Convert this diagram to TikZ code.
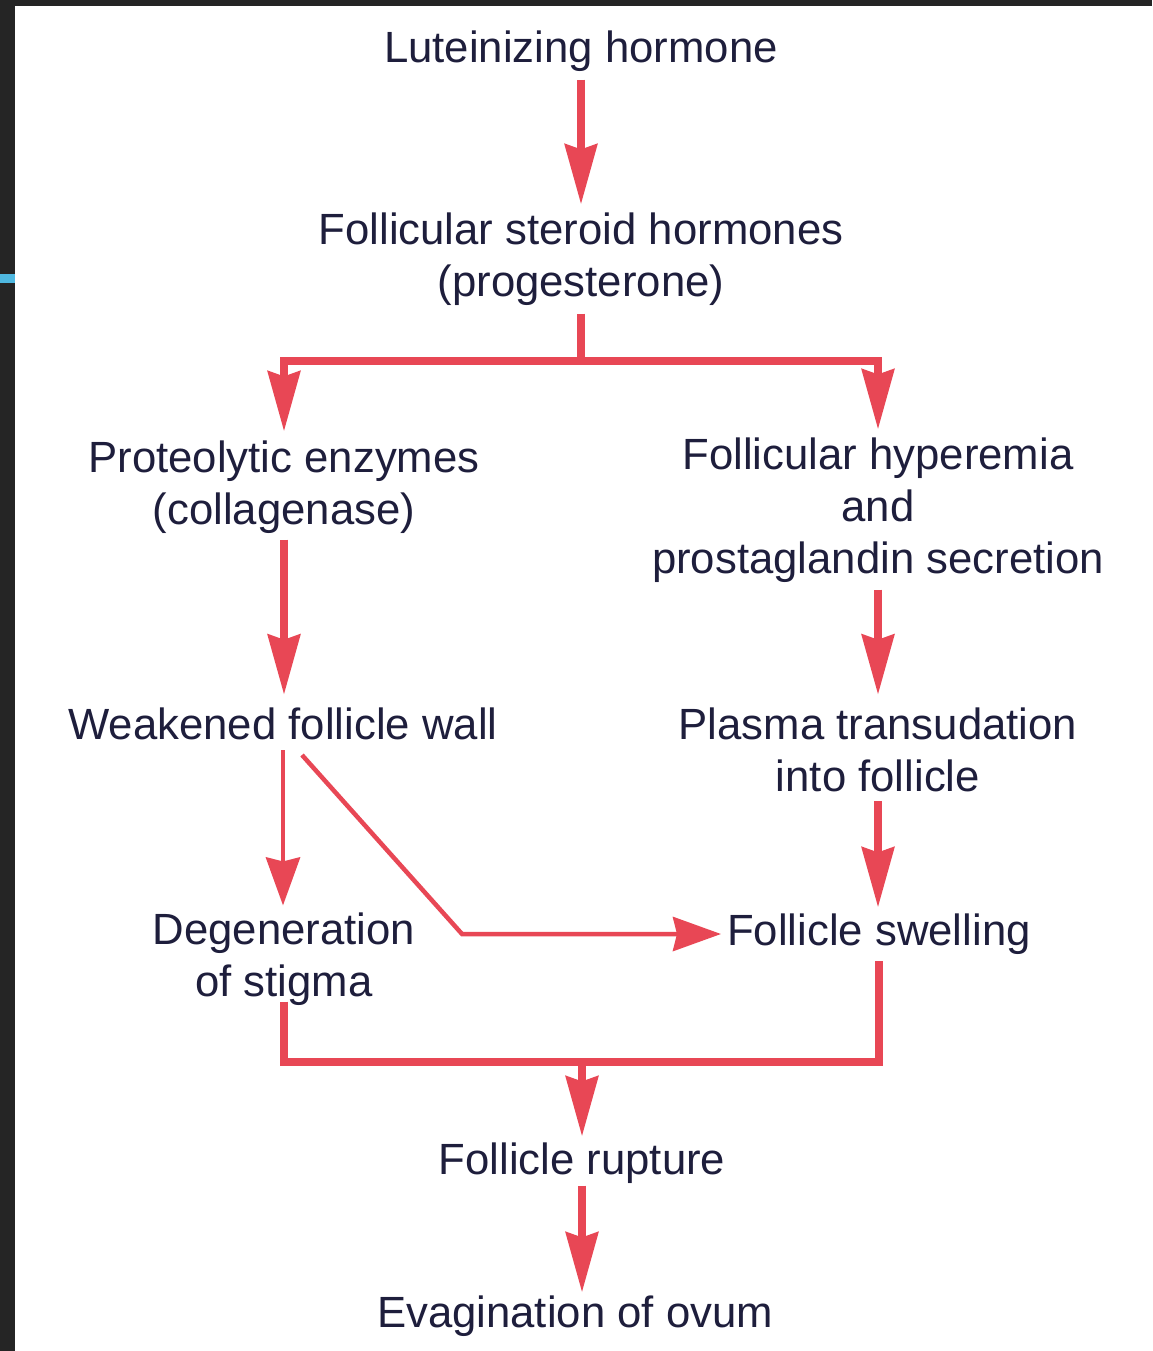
\documentclass[tikz,border=0pt]{standalone}
\usepackage{fontspec}
\setmainfont{Liberation Sans}
\usetikzlibrary{arrows.meta}
\definecolor{arr}{HTML}{E84755}
\definecolor{txt}{HTML}{1E1E3C}
\definecolor{framecol}{HTML}{252525}
\definecolor{tabcol}{HTML}{4FB8E0}
\begin{document}
\begin{tikzpicture}[x=1pt,y=-1pt,
  lbl/.style={text=txt, font=\fontsize{43.7}{52}\selectfont, align=center, inner sep=0pt},
  flow/.style={draw=arr, line width=8pt, -{Stealth[length=60pt,width=32pt,inset=5pt]}},
  link/.style={draw=arr, line width=8pt, line join=miter},
  slim/.style={draw=arr, line width=4.5pt, line join=miter, -{Stealth[length=48pt,width=34pt,inset=4pt]}}]
\fill[framecol] (0,0) rectangle (1152,1351);
\fill[white] (15,6) rectangle (1152,1351);
\fill[tabcol] (0,274) rectangle (15,283);
\useasboundingbox (0,0) rectangle (1152,1351);

\node[lbl] (lh)  at (581,51)   {Luteinizing hormone};
\node[lbl] (fsh) at (581,259)  {Follicular steroid hormones\\(progesterone)};
\node[lbl] (pe)  at (284,487)  {Proteolytic enzymes\\(collagenase)};
\node[lbl] (fhp) at (878,510)  {Follicular hyperemia\\and\\prostaglandin secretion};
\node[lbl] (wfw) at (283,724)  {Weakened follicle wall};
\node[lbl] (ptf) at (878,750)  {Plasma transudation\\into follicle};
\node[lbl] (dos) at (284,959)  {Degeneration\\of stigma};
\node[lbl] (fs)  at (879,934)  {Follicle swelling};
\node[lbl] (fr)  at (582,1163) {Follicle rupture};
\node[lbl] (eo)  at (575,1316) {Evagination of ovum};

\coordinate (j1) at (581,361);
\coordinate (j2) at (582,1062);
\coordinate (d0) at (302,755);
\coordinate (d1) at (462,0);

\draw[flow, shorten <=8pt, shorten >=8pt] (lh.south) -- (fsh.north);
\draw[link, shorten <=8pt] (fsh.south) -- (j1);
\draw[flow, shorten >=9pt] (j1) -| (pe.north);
\draw[flow, shorten >=8pt] (j1) -| (fhp.north);
\draw[flow, shorten <=6pt, shorten >=13pt] (pe.south) -- (pe.south |- wfw.north);
\draw[flow, shorten <=7pt, shorten >=13pt] (fhp.south) -- (fhp.south |- ptf.north);
\draw[slim, shorten <=10pt, shorten >=7pt] (wfw.south) -- (wfw.south |- dos.north);
\draw[slim, shorten >=6pt] (d0) -- (d1 |- fs.west) -- (fs.west);
\draw[flow, shorten <=9pt, shorten >=6pt] (ptf.south) -- (ptf.south |- fs.north);
\draw[link, shorten <=-4pt, shorten >=6pt] (dos.south) |- (j2) -| (fs.south);
\draw[flow, shorten >=6pt] (j2) -- (fr.north);
\draw[flow, shorten <=2pt, shorten >=3pt] (fr.south) -- (fr.south |- eo.north);
\end{tikzpicture}
\end{document}
